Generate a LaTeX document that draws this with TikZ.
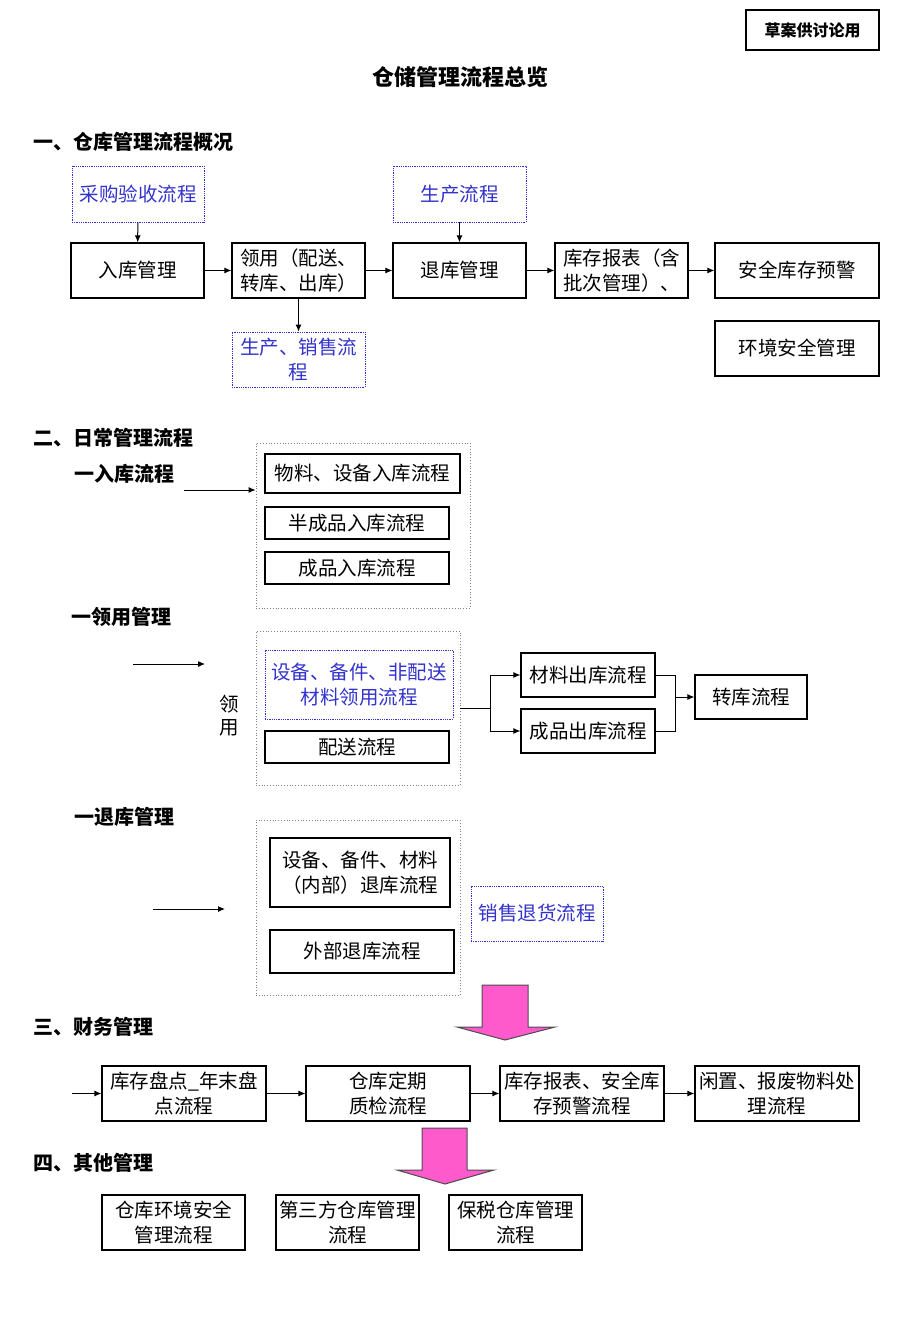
\documentclass[tikz,border=0pt]{standalone}
\usepackage{fontspec}
\newfontfamily\cjk{Noto Sans CJK SC}
\usetikzlibrary{arrows.meta, positioning}
\definecolor{linkblue}{RGB}{51,51,204}
\definecolor{arrowpink}{RGB}{255,90,204}

\begin{document}
\begin{tikzpicture}[x=1pt, y=-1pt,
    every node/.style={font=\cjk\fontsize{19.5}{25}\selectfont},
    box/.style={rectangle, draw, line width=1.2pt, inner sep=0pt, align=center},
    linkbox/.style={rectangle, draw=linkblue, densely dotted, line width=0.8pt, inner sep=0pt, align=center, text=linkblue},
    group/.style={rectangle, draw=gray, dotted, line width=0.8pt, inner sep=0pt},
    head/.style={anchor=west, inner sep=0pt, font=\cjk\bfseries\fontsize{20}{24}\selectfont},
    arr/.style={-{Latex[length=7pt,width=6pt]}, line width=1pt},
    bigarrow/.style={fill=arrowpink, draw=black!70, line width=1pt}]
    \useasboundingbox (0,0) rectangle (920,1329);

    % header
    \node[box, minimum width=133, minimum height=40, font=\cjk\bfseries\fontsize{16}{20}\selectfont] (stamp) at (812.5,30) {草案供讨论用};
    \node[font=\cjk\bfseries\fontsize{22}{26}\selectfont] (title) at (460,77) {仓储管理流程总览};

    % section 1
    \node[head] (sec1) at (33,142) {一、仓库管理流程概况};
    \node[box, minimum width=133, minimum height=55] (ruku) at (137.5,270.5) {入库管理};
    \node[box, minimum width=133, minimum height=55, align=left] (lingyong) at (298.5,270.5) {领用（配送、\\转库、出库）};
    \node[box, minimum width=133, minimum height=55] (tuiku) at (459.5,270.5) {退库管理};
    \node[box, minimum width=133, minimum height=55, align=left] (baobiao) at (621.5,270.5) {库存报表（含\\批次管理）、};
    \node[box, minimum width=164, minimum height=55] (anquan) at (797,270.5) {安全库存预警};
    \node[box, minimum width=164, minimum height=55] (huanjing) at (797,348.5) {环境安全管理};
    \node[linkbox, minimum width=132, minimum height=56] (caigou) at (138,194) {采购验收流程};
    \node[linkbox, minimum width=133, minimum height=56] (shengchan) at (459.5,194) {生产流程};
    \node[linkbox, minimum width=133, minimum height=55] (xiaoshou) at (298.5,359.5) {生产、销售流\\程};
    \draw[arr] (caigou) -- (ruku);
    \draw[arr] (shengchan) -- (tuiku);
    \draw[arr] (lingyong) -- (xiaoshou);
    \draw[arr] (ruku) -- (lingyong);
    \draw[arr] (lingyong) -- (tuiku);
    \draw[arr] (tuiku) -- (baobiao);
    \draw[arr] (baobiao) -- (anquan);

    % section 2
    \node[head] (sec2) at (33,438) {二、日常管理流程};
    \node[head] (rukuhd) at (74,474) {一入库流程};
    \node[group, minimum width=214, minimum height=165] (grp1) at (363,525.5) {};
    \node[box, minimum width=195, minimum height=39] (wuliao) at (362.5,473.5) {物料、设备入库流程};
    \node[box, minimum width=184, minimum height=32] (banchengpin) at (357,523) {半成品入库流程};
    \node[box, minimum width=184, minimum height=32] (chengpin) at (357,568) {成品入库流程};
    \coordinate (in1) at (184,490);
    \draw[arr] (in1) -- (grp1.west |- in1);

    \node[head] (lingyonghd) at (71,617) {一领用管理};
    \node[group, minimum width=204, minimum height=154] (grp2) at (358,708) {};
    \node[align=center, font=\cjk\fontsize{19.5}{23}\selectfont] (lingyongtxt) at (229,716) {领\\用};
    \node[linkbox, minimum width=188, minimum height=69] (feipeisong) at (359,684.5) {设备、备件、非配送\\材料领用流程};
    \node[box, minimum width=184, minimum height=32] (peisong) at (357,747) {配送流程};
    \node[box, minimum width=134, minimum height=44] (cailiao) at (588,675) {材料出库流程};
    \node[box, minimum width=134, minimum height=44] (chengpinck) at (588,731) {成品出库流程};
    \node[box, minimum width=112, minimum height=44] (zhuanku) at (751,697) {转库流程};
    \coordinate (in2) at (133,664);
    \coordinate (in2end) at (205,664);
    \draw[arr] (in2) -- (in2end);
    \coordinate (split) at (490,708);
    \coordinate (merge) at (675,697);
    \draw[line width=1pt] (grp2.east |- split) -- (split);
    \draw[arr] (split) |- (cailiao.west);
    \draw[arr] (split) |- (chengpinck.west);
    \draw[line width=1pt] (cailiao.east) -| (merge);
    \draw[line width=1pt] (chengpinck.east) -| (merge);
    \draw[arr] (merge) -- (zhuanku.west);

    \node[head] (tuikuhd) at (74,817) {一退库管理};
    \node[group, minimum width=204, minimum height=175] (grp3) at (358,907.5) {};
    \node[box, minimum width=180, minimum height=69] (neibu) at (360,872.5) {设备、备件、材料\\（内部）退库流程};
    \node[box, minimum width=184, minimum height=43] (waibu) at (362,951.5) {外部退库流程};
    \node[linkbox, minimum width=132, minimum height=55] (xiaotui) at (537,913.5) {销售退货流程};
    \coordinate (in3) at (153,909);
    \coordinate (in3end) at (225,909);
    \draw[arr] (in3) -- (in3end);

    % section 3
    \draw[bigarrow] (482,985) -- (528,985) -- (528,1027) -- (555,1027) -- (505,1040) -- (457,1027) -- (482,1027) -- cycle;
    \node[head] (sec3) at (33,1027) {三、财务管理};
    \node[box, minimum width=164, minimum height=55] (pandian) at (184,1093.5) {库存盘点\_年末盘\\点流程};
    \node[box, minimum width=164, minimum height=55] (zhijian) at (388,1093.5) {仓库定期\\质检流程};
    \node[box, minimum width=164, minimum height=55] (yujing) at (582,1093.5) {库存报表、安全库\\存预警流程};
    \node[box, minimum width=164, minimum height=55] (xianzhi) at (777,1093.5) {闲置、报废物料处\\理流程};
    \coordinate (in4) at (72,1093.5);
    \draw[arr] (in4) -- (pandian);
    \draw[arr] (pandian) -- (zhijian);
    \draw[arr] (zhijian) -- (yujing);
    \draw[arr] (yujing) -- (xianzhi);

    % section 4
    \draw[bigarrow] (422,1128) -- (467,1128) -- (467,1170) -- (494,1170) -- (445,1184) -- (397,1170) -- (422,1170) -- cycle;
    \node[head] (sec4) at (33,1163) {四、其他管理};
    \node[box, minimum width=143, minimum height=55] (huanjinglc) at (173.5,1222.5) {仓库环境安全\\管理流程};
    \node[box, minimum width=143, minimum height=55] (disanfang) at (347.5,1222.5) {第三方仓库管理\\流程};
    \node[box, minimum width=133, minimum height=55] (baoshui) at (515.5,1222.5) {保税仓库管理\\流程};
\end{tikzpicture}
\end{document}
